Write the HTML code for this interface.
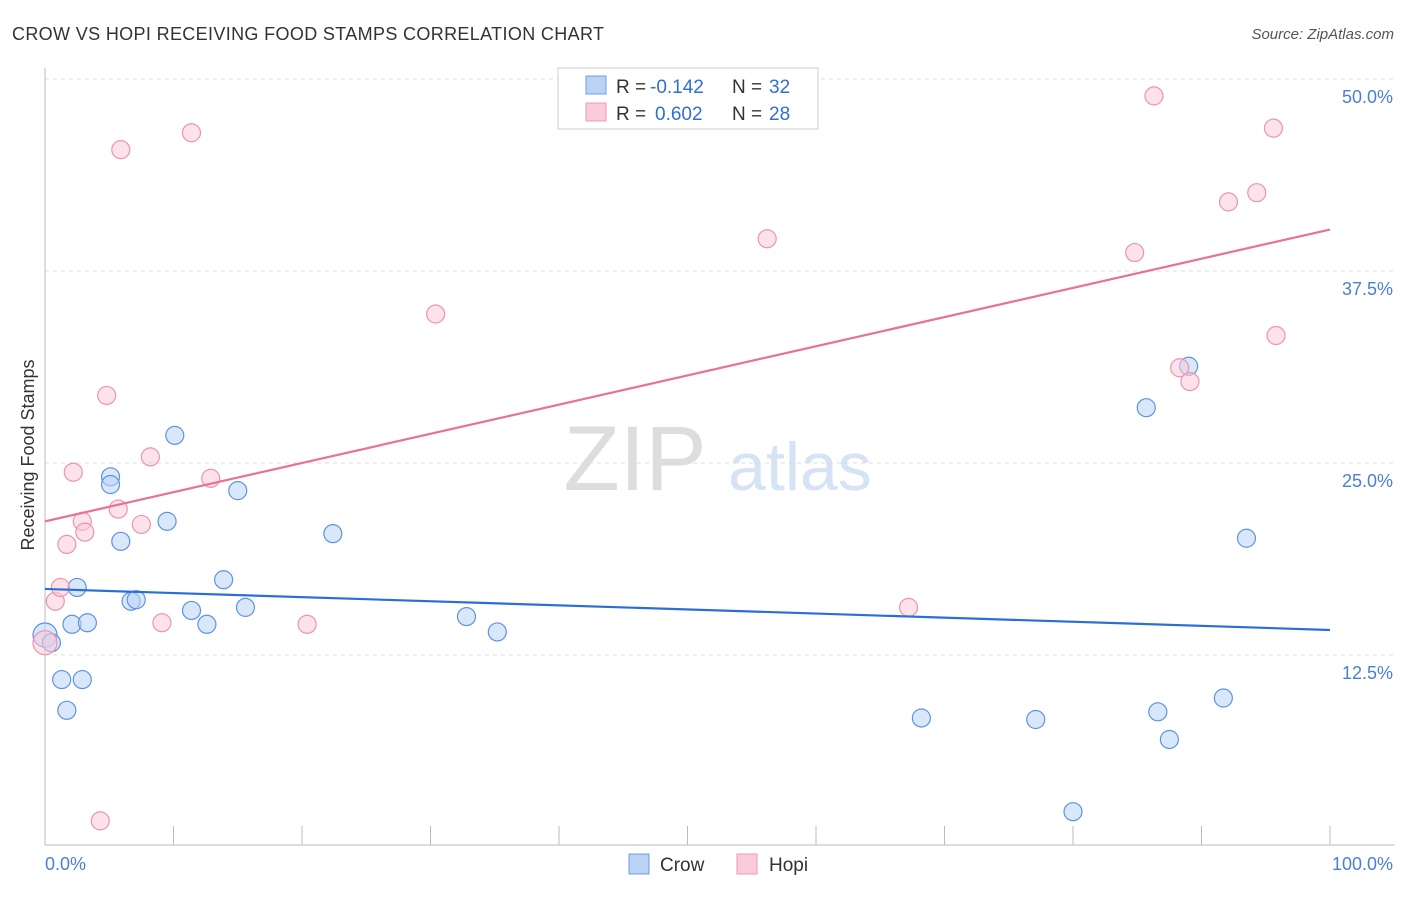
<!DOCTYPE html>
<html><head><meta charset="utf-8"><style>
body{margin:0;background:#fff;font-family:"Liberation Sans",sans-serif}
svg text{font-family:"Liberation Sans",sans-serif}
</style></head><body>
<svg id="c" width="1406" height="892">
<text x="12" y="40" font-size="18" fill="#333" textLength="592">CROW VS HOPI RECEIVING FOOD STAMPS CORRELATION CHART</text>
<text x="1394" y="39" font-size="15" fill="#555" font-style="italic" text-anchor="end">Source: ZipAtlas.com</text>
<text x="635" y="490" font-size="92" fill="#ddd" font-family="Liberation Serif" text-anchor="middle">ZIP</text>
<text x="800" y="490" font-size="68" fill="#d5e3f5" text-anchor="middle">atlas</text>
<text transform="translate(34,455) rotate(-90)" font-size="18" fill="#333" text-anchor="middle">Receiving Food Stamps</text>
<g id="grid"></g><g id="pts"></g><g id="lines"></g>
<g>
<rect x="558" y="68" width="260" height="61" fill="#fff" stroke="#ccc"/>
<rect x="586" y="76" width="20" height="18" fill="#b9d3f5" stroke="#6e9ee0"/>
<rect x="586" y="103" width="20" height="18" fill="#fbcbd9" stroke="#ef9ab5"/>
<text x="616" y="93" font-size="19" fill="#333">R =</text>
<text x="650" y="93" font-size="19" fill="#2f6fd6">-0.142</text>
<text x="732" y="93" font-size="19" fill="#333">N =</text>
<text x="769" y="93" font-size="19" fill="#2f6fd6">32</text>
<text x="616" y="120" font-size="19" fill="#333">R =</text>
<text x="655" y="120" font-size="19" fill="#2f6fd6">0.602</text>
<text x="732" y="120" font-size="19" fill="#333">N =</text>
<text x="769" y="120" font-size="19" fill="#2f6fd6">28</text>
</g>
<g>
<rect x="629" y="854" width="20" height="20" fill="#b9d3f5" stroke="#6e9ee0"/>
<text x="660" y="871" font-size="19" fill="#333">Crow</text>
<rect x="737" y="854" width="20" height="20" fill="#fbcbd9" stroke="#ef9ab5"/>
<text x="769" y="871" font-size="19" fill="#333">Hopi</text>
</g>
<text x="45" y="870" font-size="18" fill="#4a7fd6">0.0%</text>
<text x="1393" y="870" font-size="18" fill="#4a7fd6" text-anchor="end">100.0%</text>
</svg>
<script>
const crowX=[0,0.5,5.1,5.1,10.1,15.0,9.5,5.9,22.4,2.5,13.9,6.7,7.1,11.4,15.6,12.6,2.1,3.3,1.3,2.9,1.7,32.8,35.2,85.7,89.0,93.5,68.2,77.1,86.6,91.7,87.5,80.0];
const crowY=[13.8,13.3,24.1,23.6,26.8,23.2,21.2,19.9,20.4,16.9,17.4,16.0,16.1,15.4,15.6,14.5,14.5,14.6,10.9,10.9,8.9,15.0,14.0,28.6,31.3,20.1,8.4,8.3,8.8,9.7,7.0,2.3];
const hopiX=[0,0.8,1.2,1.7,2.2,2.9,3.1,4.8,5.7,5.9,7.5,8.2,9.1,11.4,12.9,20.4,30.4,56.2,67.2,4.3,84.8,86.3,88.3,89.1,92.1,94.3,95.6,95.8];
const hopiY=[13.3,16.0,16.9,19.7,24.4,21.2,20.5,29.4,22.0,45.4,21.0,25.4,14.6,46.5,24.0,14.5,34.7,39.6,15.6,1.7,38.7,48.9,31.2,30.3,42.0,42.6,46.8,33.3];
const crowTrend=[16.8,14.13];
const hopiTrend=[21.2,40.2];
const yTicks=[12.5,25,37.5,50];
const xTicks=[0,10,20,30,40,50,60,70,80,90,100];
const NS='http://www.w3.org/2000/svg';
const sx=v=>45+v*12.85, sy=v=>847-v*15.36;
function mk(t,a,p){const e=document.createElementNS(NS,t);for(const k in a)e.setAttribute(k,a[k]);p.appendChild(e);return e;}
const g=document.getElementById('grid');
yTicks.forEach(t=>{
 const l=mk('line',{x1:45,x2:1395,y1:sy(t),y2:sy(t),stroke:'#ddd','stroke-dasharray':'4,4'},g);
 
 
 const tx=mk('text',{x:1393,y:sy(t)+24,'font-size':18,fill:'#4a7fd6','text-anchor':'end'},g);
 tx.textContent=t.toFixed(1)+'%';
 
 
});
const ax=mk('line',{x1:45,x2:45,y1:68,y2:845,stroke:'#bbb'},g);


const bx=mk('line',{x1:45,x2:1395,y1:845,y2:845,stroke:'#bbb'},g);


xTicks.forEach(t=>{
 const l=mk('line',{x1:sx(t),x2:sx(t),y1:826,y2:845,stroke:'#bbb'},g);
 
 
});
const p=document.getElementById('pts');
function pts(X,Y,fill,stroke,name){X.forEach((x,i)=>{
 const c=mk('circle',{cx:sx(x),cy:sy(Y[i]),r:i==0?12:9,fill:fill,'fill-opacity':0.55,stroke:stroke,'stroke-width':1.2},p);
 
 
});}
pts(crowX,crowY,'#b9d3f5','#5f93dd','crow-point');
pts(hopiX,hopiY,'#fbcbd9','#ec94b0','hopi-point');
const L=document.getElementById('lines');
const a=mk('line',{x1:sx(0),x2:sx(100),y1:sy(crowTrend[0]),y2:sy(crowTrend[1]),stroke:'#2a6fd6','stroke-width':2.2},L);


const b=mk('line',{x1:sx(0),x2:sx(100),y1:sy(hopiTrend[0]),y2:sy(hopiTrend[1]),stroke:'#e8719a','stroke-width':2.2},L);


</script>
</body></html>
